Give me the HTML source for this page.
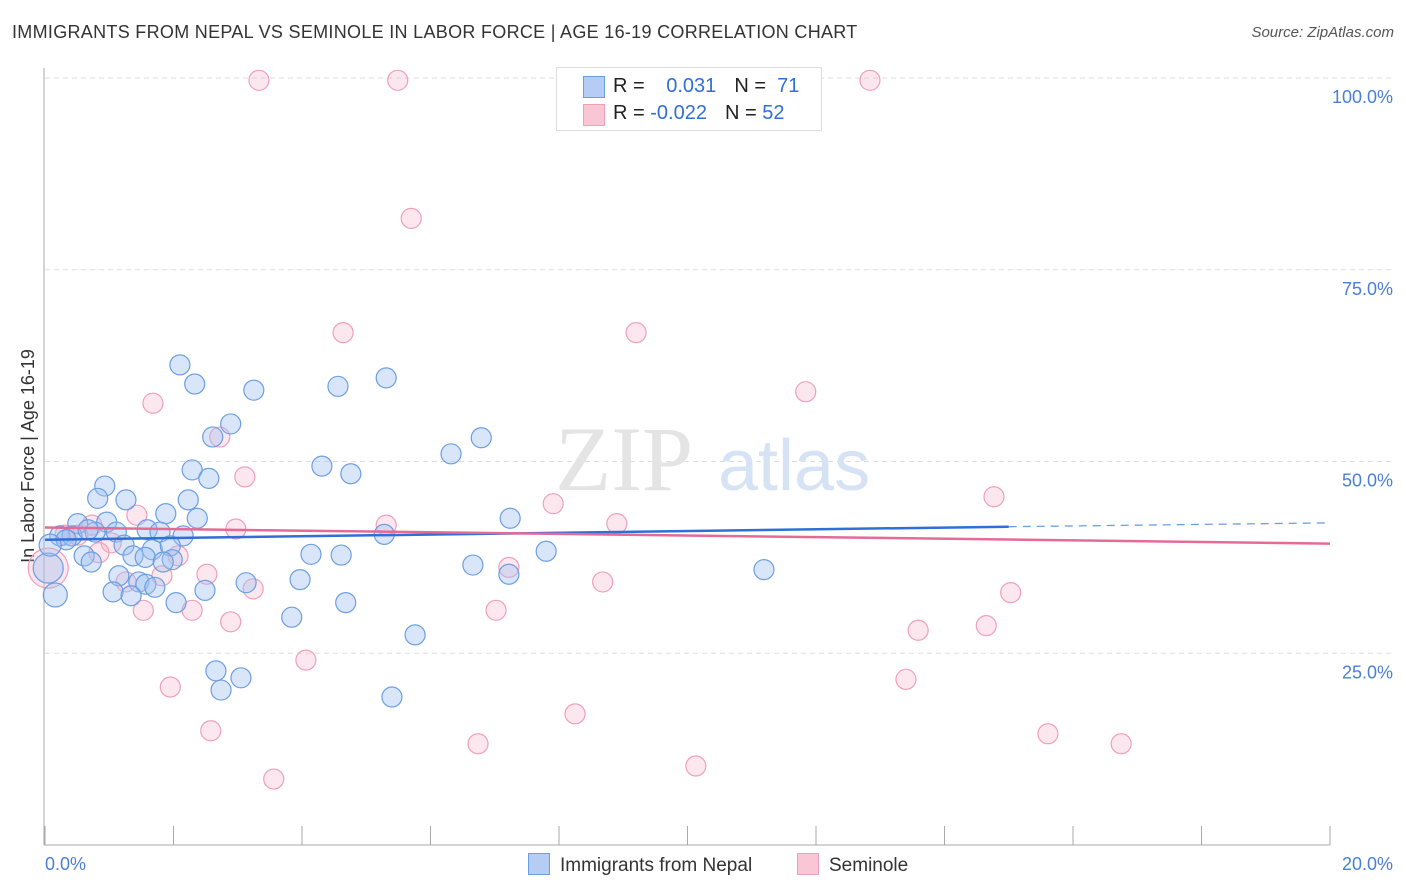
<!DOCTYPE html>
<html><head><meta charset="utf-8"><style>
body{margin:0;background:#fff;font-family:"Liberation Sans",sans-serif;}
#c{position:relative;width:1406px;height:892px;overflow:hidden}
</style></head><body><div id="c">
<div style="position:absolute;left:12px;top:22px;font-size:18px;letter-spacing:0.3px;color:#333">IMMIGRANTS FROM NEPAL VS SEMINOLE IN LABOR FORCE | AGE 16-19 CORRELATION CHART</div>
<div style="position:absolute;right:12px;top:24px;font-size:15px;color:#555;font-style:italic">Source: ZipAtlas.com</div>
<svg id="s" width="1406" height="892" style="position:absolute;left:0;top:0"></svg>
</div>
<script>
const yTicks=[25,50,75,100];
const xTickLabels=["0.0%","20.0%"];
const blueX=[2.10,2.33,3.25,4.56,5.31,2.89,2.61,2.29,2.55,4.31,4.76,6.32,6.79,0.93,0.82,1.26,2.23,1.88,2.37,0.51,0.96,0.78,1.59,1.79,2.15,1.11,0.23,0.42,0.67,1.23,1.67,1.95,0.61,1.37,1.56,1.98,1.84,0.72,4.14,4.61,5.28,7.24,7.80,6.66,7.22,1.15,1.46,1.57,3.13,3.97,1.06,1.34,1.71,2.49,2.04,4.68,3.84,5.76,2.66,3.05,2.74,5.40,11.19,0.33,0.05,0.16,0.08];
const blueY=[62.6,60.1,59.3,59.8,60.9,54.9,53.2,48.9,47.8,49.4,48.4,51.0,53.1,46.8,45.2,45.0,45.0,43.2,42.6,41.9,42.1,40.8,41.1,40.8,40.3,40.8,40.3,40.3,41.1,39.1,38.5,39.0,37.7,37.7,37.5,37.2,36.9,36.9,37.9,37.8,40.5,42.6,38.3,36.5,35.3,35.1,34.3,34.0,34.2,34.6,33.0,32.5,33.6,33.2,31.6,31.6,29.7,27.4,22.7,21.8,20.2,19.3,35.9,39.8,36.1,32.6,39.1];
const blueW=[1,1,1,1,1,1,1,1,1,1,1,1,1,1,1,1,1,1,1,1,1,1,1,1,1,1,1,1,1,1,1,1,1,1,1,1,1,1,1,1,1,1,1,1,1,1,1,1,1,1,1,1,1,1,1,1,1,1,1,1,1,1,1,1,1.5,1.2,1.1];
const pinkX=[3.33,5.49,12.84,5.70,4.64,9.20,11.84,1.68,2.72,3.11,7.91,14.77,1.43,0.73,2.97,5.31,8.90,1.03,0.84,2.07,7.22,2.52,1.82,1.26,3.24,8.68,15.03,1.53,2.29,7.02,2.89,13.59,14.65,4.06,1.95,13.40,8.25,2.58,6.74,15.61,16.75,10.13,3.56,0.31,0.51,0.05];
const pinkY=[99.7,99.7,99.7,81.7,66.8,66.8,59.1,57.6,53.2,48.0,44.5,45.4,43.0,41.7,41.2,41.7,41.9,39.4,38.1,37.7,36.2,35.3,35.1,34.3,33.4,34.3,32.9,30.6,30.6,30.6,29.1,28.0,28.6,24.1,20.6,21.6,17.1,14.9,13.2,14.5,13.2,10.3,8.6,40.4,40.4,36.1];
const pinkW=[1,1,1,1,1,1,1,1,1,1,1,1,1,1,1,1,1,1,1,1,1,1,1,1,1,1,1,1,1,1,1,1,1,1,1,1,1,1,1,1,1,1,1,1,1,2.0];
const blueTrend=[39.8,41.5,42.0];
const pinkTrend=[41.4,39.3];
const X=v=>45+v*64.25, Y=v=>845-v*7.67;
const s=document.getElementById('s');const NS='http://www.w3.org/2000/svg';
function mk(t,a,p){const e=document.createElementNS(NS,t);for(const k in a)e.setAttribute(k,a[k]);(p||s).appendChild(e);return e;}
for(const t of yTicks){const g=mk('line',{x1:45,x2:1393,y1:Y(t),y2:Y(t),stroke:'#ddd','stroke-dasharray':'5,4'});


const tx=mk('text',{x:1393,y:Y(t)+25,'text-anchor':'end','font-size':18,fill:'#4a7fd6'});tx.textContent=t.toFixed(1)+'%';

}
mk('line',{x1:44,x2:44,y1:68,y2:845,stroke:'#aaa'});
mk('line',{x1:44,x2:1330,y1:845,y2:845,stroke:'#aaa'});
for(let i=0;i<=10;i++){const tk=mk('line',{x1:X(i*2),x2:X(i*2),y1:826,y2:845,stroke:'#aaa'});

}
const xl0=mk('text',{x:45,y:870,'font-size':18,fill:'#4a7fd6'});xl0.textContent=xTickLabels[0];


const xl1=mk('text',{x:1393,y:870,'text-anchor':'end','font-size':18,fill:'#4a7fd6'});xl1.textContent=xTickLabels[1];


const yt=mk('text',{x:34,y:456,'text-anchor':'middle','font-size':18,fill:'#333',transform:'rotate(-90 34 456)'});yt.textContent='In Labor Force | Age 16-19';


const wm=mk('text',{x:555,y:490,'font-size':92,fill:'#e4e4e4','font-family':'Liberation Serif'});wm.textContent='ZIP';


const wm2=mk('text',{x:718,y:490,'font-size':72,fill:'#d6e3f5'});wm2.textContent='atlas';


pinkX.forEach((v,i)=>{const c=mk('circle',{cx:X(v),cy:Y(pinkY[i]),r:10*pinkW[i],fill:'rgba(246,176,200,0.3)',stroke:'#ef9fba','stroke-width':1.2});

});
blueX.forEach((v,i)=>{const c=mk('circle',{cx:X(v),cy:Y(blueY[i]),r:10*blueW[i],fill:'rgba(160,192,240,0.4)',stroke:'#6b9ee3','stroke-width':1.2});

});
const bl=mk('line',{x1:X(0),y1:Y(blueTrend[0]),x2:X(15),y2:Y(blueTrend[1]),stroke:'#2f6fd6','stroke-width':2.5});


const bd=mk('line',{x1:X(15),y1:Y(blueTrend[1]),x2:X(20),y2:Y(blueTrend[2]),stroke:'#6b9ee3','stroke-width':1.3,'stroke-dasharray':'8,6'});


const pl=mk('line',{x1:X(0),y1:Y(pinkTrend[0]),x2:X(20),y2:Y(pinkTrend[1]),stroke:'#e46b96','stroke-width':2.5});


</script>
<div style="position:absolute;left:556px;top:67px;width:264px;height:62px;border:1px solid #ddd;background:#fff;font-size:20px;color:#222">
<div style="position:absolute;left:26px;top:8px;width:20px;height:20px;background:#b5cdf5;border:1px solid #6b9ee3"></div>
<div style="position:absolute;left:56px;top:7px">R = <span style="color:#2f6fd6;margin-left:16px">0.031</span><span style="margin-left:18px">N = </span><span style="color:#2f6fd6">&nbsp;71</span></div>
<div style="position:absolute;left:26px;top:36px;width:20px;height:20px;background:#f9c6d6;border:1px solid #ef9fba"></div>
<div style="position:absolute;left:56px;top:34px">R = <span style="color:#2f6fd6">-0.022</span><span style="margin-left:18px">N = </span><span style="color:#2f6fd6">52</span></div>
</div>
<div style="position:absolute;left:528px;top:853px;font-size:19px;color:#333"><span style="display:inline-block;width:20px;height:20px;background:#b5cdf5;border:1px solid #6b9ee3;vertical-align:-4px;margin-right:10px"></span>Immigrants from Nepal</div>
<div style="position:absolute;left:797px;top:853px;font-size:19px;color:#333"><span style="display:inline-block;width:20px;height:20px;background:#f9c6d6;border:1px solid #ef9fba;vertical-align:-4px;margin-right:10px"></span>Seminole</div>
</body></html>
